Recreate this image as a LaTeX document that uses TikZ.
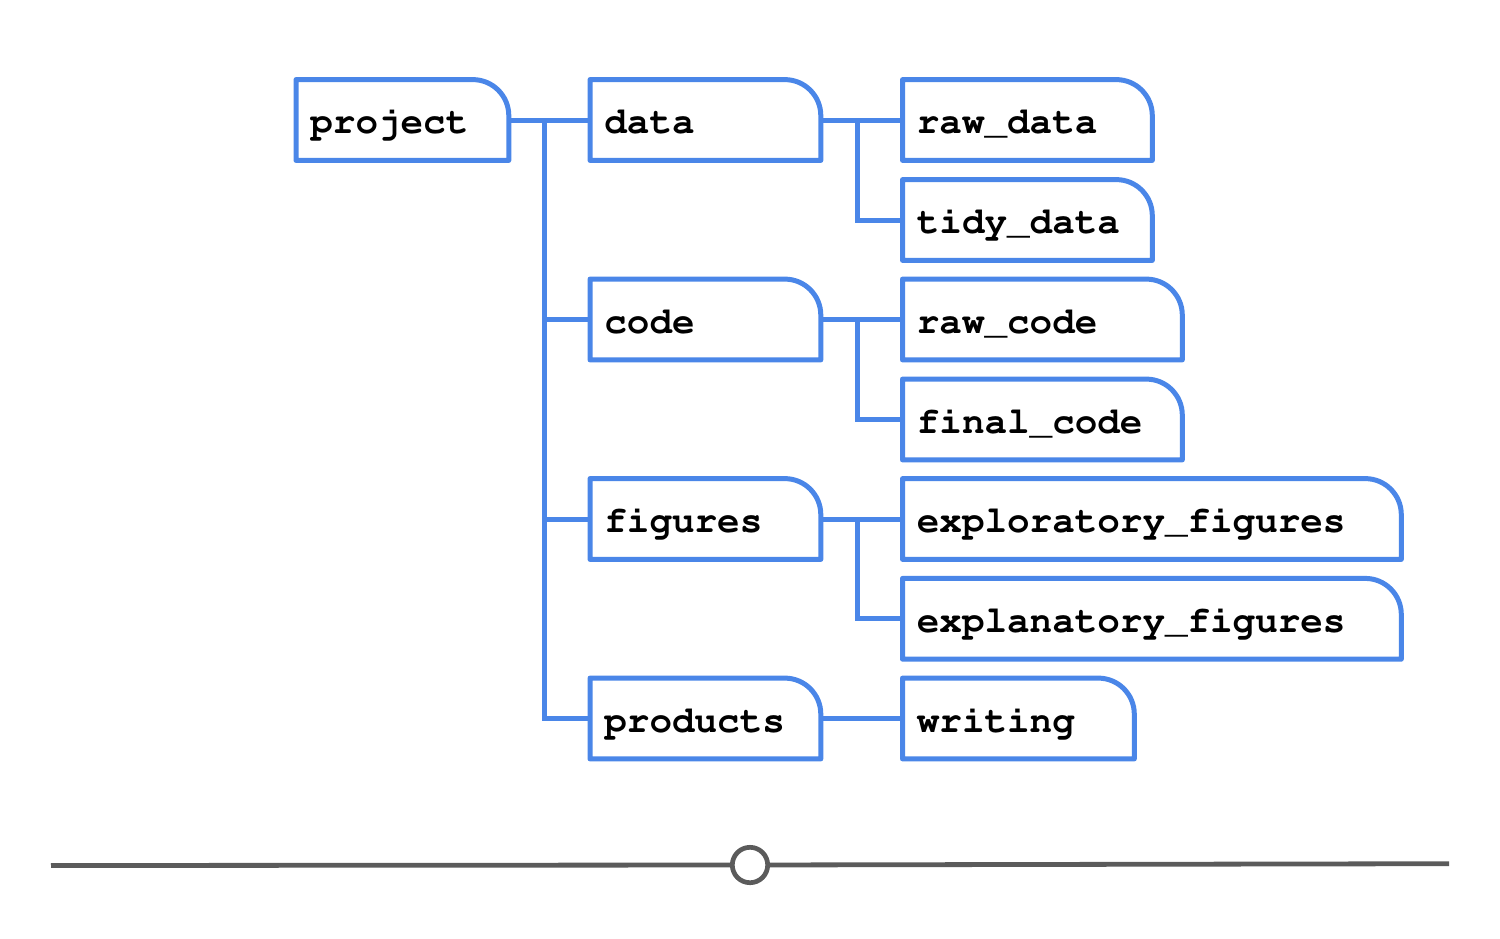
\documentclass[tikz,border=0pt]{standalone}
\usepackage[T1]{fontenc}
\usepackage{courier}
\usetikzlibrary{calc}

\definecolor{folderblue}{HTML}{4A86E8}
\definecolor{railgray}{HTML}{5B5B5B}

\tikzset{
  folder/.style={minimum width=#1, text width=#1-14pt, minimum height=40pt,
    inner xsep=7pt, inner ysep=0pt, text height=13.5pt, text depth=0pt,
    anchor=west, align=left, font=\fontsize{18.8pt}{20pt}\ttfamily\bfseries},
  outline/.style={draw=folderblue, line width=2.5pt, line join=round},
  link/.style={draw=folderblue, line width=2.5pt, line join=miter},
  rail/.style={draw=railgray, line width=2.4pt}
}

\begin{document}
\begin{tikzpicture}[x=0.5pt, y=-0.5pt]
  \useasboundingbox (0,0) rectangle (1500,938);

  % the folder tree
  \node[folder=106pt] (project) at (296,120) {project};
  \node[folder=115pt] (data) at (590,120) {data};
  \node[folder=115pt] (code) at (590,319.5) {code};
  \node[folder=115pt] (figures) at (590,519) {figures};
  \node[folder=115pt] (products) at (590,718.5) {products};
  \node[folder=124.5pt] (rawdata) at (902.5,120) {raw\_data};
  \node[folder=124.5pt] (tidydata) at (902.5,220) {tidy\_data};
  \node[folder=139.5pt] (rawcode) at (902.5,319.5) {raw\_code};
  \node[folder=139.5pt] (finalcode) at (902.5,419.5) {final\_code};
  \node[folder=249pt] (exploratory) at (902.5,519) {exploratory\_figures};
  \node[folder=249pt] (explanatory) at (902.5,618.8) {explanatory\_figures};
  \node[folder=115.5pt] (writing) at (902.5,718.5) {writing};

  % folder outlines, top right corner rounded
  \foreach \n in {project,data,code,figures,products,rawdata,tidydata,
                  rawcode,finalcode,exploratory,explanatory,writing}
    \draw[outline] (\n.south west) -- (\n.north west)
      -- ([xshift=-18pt]\n.north east) arc[start angle=90, end angle=0, radius=18pt]
      -- (\n.south east) -- cycle;

  % connectors
  \coordinate (trunk) at (544.5,120);
  \draw[link] (project.east) -- (data.west);
  \draw[link] (trunk) |- (products.west);
  \foreach \n in {code,figures}
    \draw[link] (trunk |- \n.west) -- (\n.west);
  \foreach \a/\b/\c in {data/rawdata/tidydata, code/rawcode/finalcode,
                        figures/exploratory/explanatory}{
    \draw[link] (\a.east) -- (\b.west);
    \draw[link] ([xshift=18.3pt]\a.east) |- (\c.west);
  }
  \draw[link] (products.east) -- (writing.west);

  % slider
  \coordinate (lend) at (51,865.5);
  \coordinate (rend) at (1449,863.7);
  \node[circle, draw=railgray, line width=2.35pt, fill=white, inner sep=0pt,
        minimum size=17.7pt] (knob) at (750,865) {};
  \draw[rail] (lend) -- (knob);
  \draw[rail] (knob) -- (rend);
\end{tikzpicture}
\end{document}
